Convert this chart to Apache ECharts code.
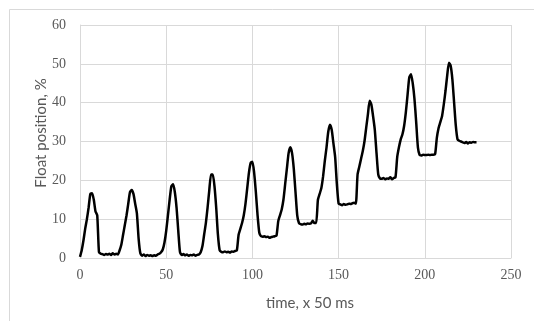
<!DOCTYPE html>
<html>
<head>
<meta charset="utf-8">
<script src="https://cdn.jsdelivr.net/npm/echarts@6/dist/echarts.min.js"></script>
<style>
html,body{margin:0;padding:0;background:#fff;}
#chart{width:534px;height:321px;}
</style>
</head>
<body>
<div id="chart"></div>
<script>
// time samples (x 50 ms)
const time = [];
for (let i = 0; i <= 230; i++) time.push(i);
// float position, %
const position = [
0.3,2,4.5,7.5,10,13,16.5,16.7,15,12,11,1.5,1.1,1.0,0.8,1.0,0.9,1.1,0.8,1.2,0.9,1.1,0.9,
2,3.5,6,8.5,11,14,17,17.5,16.5,14,11.5,5,1.2,0.6,0.9,0.5,0.8,0.6,0.7,0.5,0.7,0.6,0.9,1.1,1.5,2.2,
4,7,11,15,18.5,19,17,13,7,1.5,0.8,1.0,0.7,0.9,0.6,0.8,0.7,0.9,0.6,0.8,0.9,1.5,
3,6,9,13,17.5,21.5,21.5,18.5,13,6,2,1.6,1.5,1.7,1.5,1.6,1.4,1.7,1.6,1.8,2,
6,7.5,9,11,14,18,22,24.5,24.8,22,17,11,6.5,5.6,5.5,5.6,5.4,5.5,5.2,5.4,5.5,5.6,5.8,
9.5,11,12.5,15,19,23,27,28.5,27,23,17,11,9,8.7,8.6,8.8,8.7,8.9,8.8,8.9,9.6,9,9,
15,16.5,18,21,25,28.5,32.5,34.3,33,29.5,26,19,14,13.8,13.6,13.9,13.7,13.8,14,13.9,14.1,14.2,14,
21.5,23.5,25.5,27.5,30,33.5,37,40.5,39.5,36.5,33,27,21.5,20.5,20.4,20.6,20.3,20.5,20.4,20.8,20.3,20.6,20.8,
26,28.5,30.5,31.8,34,37.5,42,46.5,47.3,45,41,35,28.5,26.5,26.4,26.6,26.5,26.5,26.6,26.5,26.6,26.6,26.8,
31,33.5,35,36.5,39.5,43,47,50.3,49.5,46,40,34,30.5,30.2,30,29.8,29.6,29.9,29.5,29.8,29.7,29.9,29.8,29.8
];
const xTicks = [0, 50, 100, 150, 200, 250];
const yTicks = [0, 10, 20, 30, 40, 50, 60];
const xTitle = 'time, x 50 ms';
const yTitle = 'Float position, %';

const points = time.map((t, i) => [t, position[i]]);

const chart = echarts.init(document.getElementById('chart'), null, {renderer: 'canvas'});
const gridColor = '#d9d9d9';
const labelStyle = {color: '#595959', fontFamily: 'Liberation Serif', fontSize: 14};
chart.setOption({
  animation: false,
  backgroundColor: '#fff',
  grid: {left: 80, top: 25, right: 23, bottom: 63, containLabel: false},
  xAxis: {
    type: 'value', min: xTicks[0], max: xTicks[xTicks.length-1], interval: 50,
    axisLine: {show: true, lineStyle: {color: gridColor, width: 1}},
    axisTick: {show: false},
    splitLine: {show: true, lineStyle: {color: gridColor, width: 1}},
    axisLabel: Object.assign({margin: 10}, labelStyle)
  },
  yAxis: {
    type: 'value', min: yTicks[0], max: yTicks[yTicks.length-1], interval: 10,
    axisLine: {show: true, lineStyle: {color: gridColor, width: 1}},
    axisTick: {show: false},
    splitLine: {show: true, lineStyle: {color: gridColor, width: 1}},
    axisLabel: Object.assign({margin: 14}, labelStyle)
  },
  series: [{
    type: 'line', data: points, showSymbol: false, smooth: 0.2,
    lineStyle: {color: '#000', width: 2.5}
  }],
  graphic: [
    {type: 'rect', shape: {x: 9.5, y: 9.5, width: 700, height: 500},
     style: {fill: 'none', stroke: gridColor, lineWidth: 1}, silent: true, z: -1},
    {type: 'text', x: 310, y: 303,
     style: {text: xTitle, fill: '#595959', font: '15px Lato', textAlign: 'center', textVerticalAlign: 'middle'}},
    {type: 'text', x: 41, y: 133, rotation: Math.PI/2,
     style: {text: yTitle, fill: '#595959', font: '15px Lato', textAlign: 'center', textVerticalAlign: 'middle'}}
  ]
});
</script>
</body>
</html>
